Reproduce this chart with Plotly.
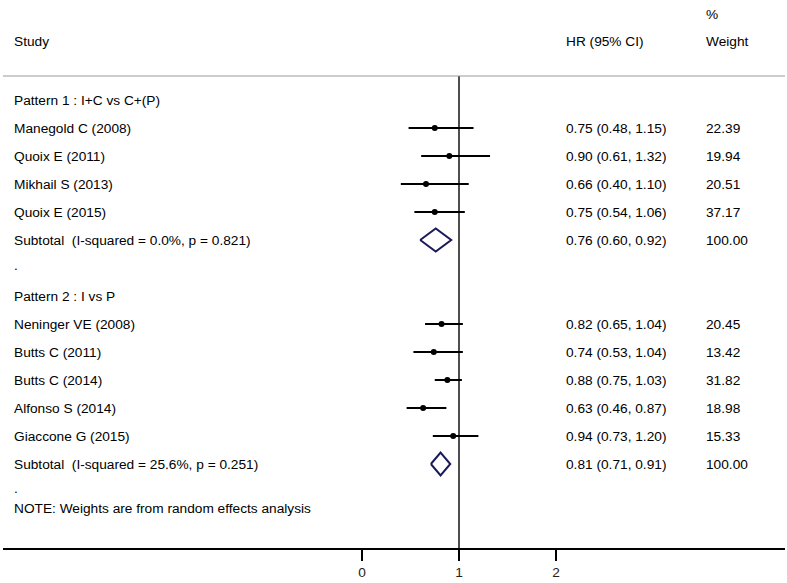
import plotly.graph_objects as go

# ---- data ----
studies = ["Manegold C (2008)", "Quoix E (2011)", "Mikhail S (2013)", "Quoix E (2015)",
           "Neninger VE (2008)", "Butts C (2011)", "Butts C (2014)", "Alfonso S (2014)", "Giaccone G (2015)"]
study_rows = [1, 2, 3, 4, 8, 9, 10, 11, 12]
hr = [0.75, 0.90, 0.66, 0.75, 0.82, 0.74, 0.88, 0.63, 0.94]
lo = [0.48, 0.61, 0.40, 0.54, 0.65, 0.53, 0.75, 0.46, 0.73]
hi = [1.15, 1.32, 1.10, 1.06, 1.04, 1.04, 1.03, 0.87, 1.20]
weights = ["22.39", "19.94", "20.51", "37.17", "20.45", "13.42", "31.82", "18.98", "15.33"]

sub_labels = ["Subtotal  (I-squared = 0.0%, p = 0.821)", "Subtotal  (I-squared = 25.6%, p = 0.251)"]
sub_rows = [5, 13]
sub_hr = [0.76, 0.81]
sub_lo = [0.60, 0.71]
sub_hi = [0.92, 0.91]
sub_weights = ["100.00", "100.00"]

group_labels = ["Pattern 1 : I+C vs C+(P)", "Pattern 2 : I vs P"]
group_rows = [0, 7]

x_ticks = [0, 1, 2]

# ---- layout geometry ----
W, H = 787, 583
ML, MR, MT, MB = 3, 2, 0, 35
PX0, PX1 = 362.0, 459.0          # pixel position of x=0 and x=1
ppu = PX1 - PX0
xr = [-(PX0 - ML) / ppu, (W - MR - PX0) / ppu]
ROW0, ROWH = 100.0, 28.0
yr = [(H - MB - ROW0) / ROWH, (MT - ROW0) / ROWH]

def px2x(p):
    return (p - PX0) / ppu

def py2r(p):
    return (p - ROW0) / ROWH

FONT = "Liberation Sans, Arial, sans-serif"
FS = 13.7
fig = go.Figure()

# CI lines and points
for r, e, l, h in zip(study_rows, hr, lo, hi):
    fig.add_trace(go.Scatter(x=[l, h], y=[r, r], mode="lines",
                             line=dict(color="black", width=2), hoverinfo="skip", showlegend=False))
fig.add_trace(go.Scatter(x=hr, y=study_rows, mode="markers",
                         marker=dict(color="black", size=6), showlegend=False))

# diamonds
dh = 0.41
for r, e, l, h in zip(sub_rows, sub_hr, sub_lo, sub_hi):
    fig.add_trace(go.Scatter(x=[l, e, h, e, l], y=[r, r - dh, r, r + dh, r], mode="lines",
                             line=dict(color="#1a1a5a", width=2), showlegend=False))

# reference line at 1 and top rule
fig.add_shape(type="line", x0=1, x1=1, y0=py2r(76), y1=yr[0], xref="x", yref="y",
              line=dict(color="#222222", width=1.6), layer="below")
fig.add_shape(type="line", x0=0, x1=1, y0=py2r(76), y1=py2r(76), xref="paper", yref="y",
              line=dict(color="#999999", width=1.2))

ann = []
def txt(xp, yp, s):
    ann.append(dict(x=px2x(xp), y=py2r(yp), xref="x", yref="y", text=s, showarrow=False,
                    xanchor="left", yanchor="middle", xshift=-2,
                    font=dict(family=FONT, size=FS, color="black")))

txt(14, 41, "Study")
txt(566, 41, "HR (95% CI)")
txt(706, 14, "%")
txt(706, 41, "Weight")

for r, s in zip(group_rows, group_labels):
    txt(14, ROW0 + r * ROWH, s)
for r, s, e, l, h, w in zip(study_rows, studies, hr, lo, hi, weights):
    y = ROW0 + r * ROWH
    txt(14, y, s)
    txt(566, y, f"{e:.2f} ({l:.2f}, {h:.2f})")
    txt(706, y, w)
for r, s, e, l, h, w in zip(sub_rows, sub_labels, sub_hr, sub_lo, sub_hi, sub_weights):
    y = ROW0 + r * ROWH
    txt(14, y, s)
    txt(566, y, f"{e:.2f} ({l:.2f}, {h:.2f})")
    txt(706, y, w)
txt(14, 265, ".")
txt(14, 488, ".")
txt(14, 508, "NOTE: Weights are from random effects analysis")

fig.update_layout(
    width=W, height=H, margin=dict(l=ML, r=MR, t=MT, b=MB),
    plot_bgcolor="white", paper_bgcolor="white",
    annotations=ann,
    xaxis=dict(range=xr, tickvals=x_ticks, ticktext=[str(t) for t in x_ticks],
               showgrid=False, zeroline=False, showline=True, linecolor="black", linewidth=2,
               ticks="outside", ticklen=11, tickwidth=1.5, tickcolor="black",
               tickfont=dict(family=FONT, size=FS, color="#222222"), fixedrange=True),
    yaxis=dict(range=yr, visible=False, showgrid=False, zeroline=False, fixedrange=True),
    showlegend=False,
)

fig.write_html("out.html", config={"displayModeBar": False},
               post_script="document.body.style.margin='0';document.body.style.overflow='hidden';")
